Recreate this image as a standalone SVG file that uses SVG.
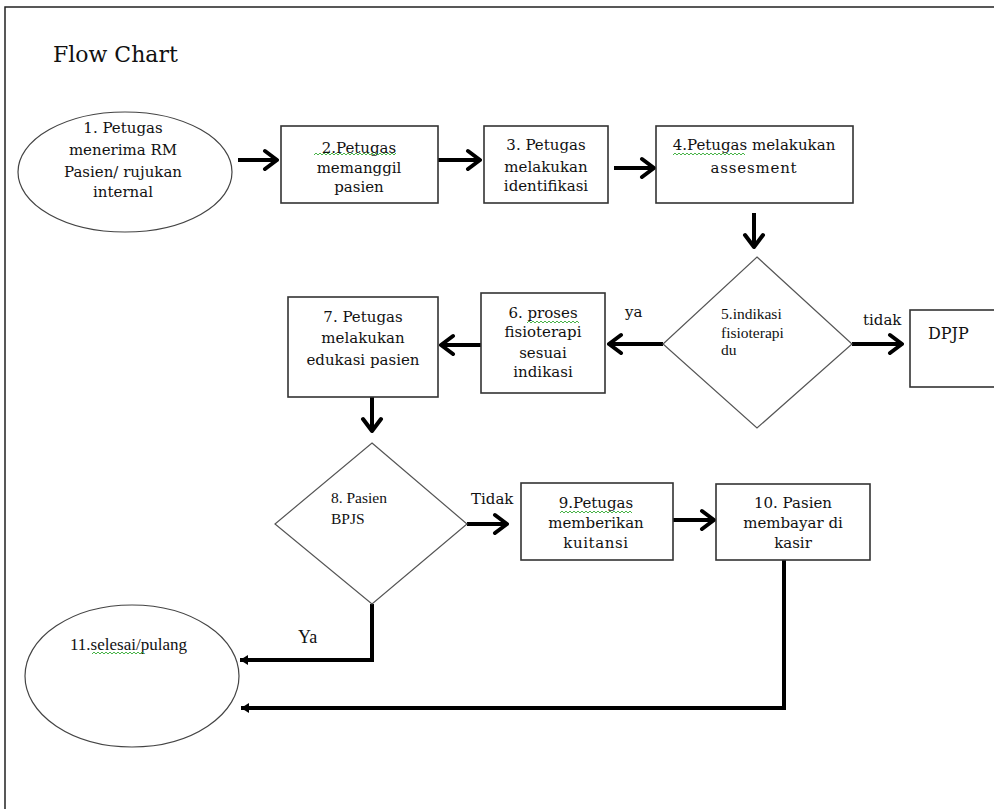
<svg xmlns="http://www.w3.org/2000/svg" width="994" height="809" viewBox="0 0 994 809">
<style>
.frame{fill:none;stroke:#222;stroke-width:1.5}
.box{fill:#fff;stroke:#333;stroke-width:1.6}
.dia{fill:#fff;stroke:#555;stroke-width:1.2}
.ell{fill:#fff;stroke:#444;stroke-width:1.2}
.t{font-family:"DejaVu Serif",serif;font-size:15px;fill:#111;text-anchor:middle}
.s{font-family:"Liberation Serif","Times New Roman",serif;font-size:15.5px;fill:#111}
.lab{font-family:"DejaVu Serif",serif;font-size:15px;fill:#111}
.c{fill:none;stroke:#000;stroke-width:4}
.sq{fill:none;stroke:#3a3;stroke-width:0.9}
</style>
<defs>
<marker id="ah" markerUnits="userSpaceOnUse" viewBox="-16 -12 18 24" refX="0" refY="0" markerWidth="18" markerHeight="24" orient="auto">
<path d="M-12,-9 L0,0 L-12,9" fill="none" stroke="#000" stroke-width="4" stroke-linecap="round" stroke-linejoin="round"/>
</marker>
<marker id="sh" markerUnits="userSpaceOnUse" viewBox="-10 -6 12 12" refX="0" refY="0" markerWidth="12" markerHeight="12" orient="auto">
<path d="M-8,-5 L0,0 L-8,5 Z" fill="#000"/>
</marker>
</defs>
<rect width="994" height="809" fill="#fff"/>
<path class="frame" d="M5,809 V7 H994"/>
<text x="53" y="62" style="font-family:'DejaVu Serif',serif;font-size:22px;fill:#111">Flow Chart</text>

<g id="connectors">
<line class="c" x1="238" y1="160" x2="277" y2="160" marker-end="url(#ah)"/>
<line class="c" x1="438" y1="160" x2="480" y2="160" marker-end="url(#ah)"/>
<line class="c" x1="614" y1="168" x2="654" y2="168" marker-end="url(#ah)"/>
<line class="c" x1="754" y1="213" x2="754" y2="247" marker-end="url(#ah)"/>
<line class="c" x1="663" y1="344" x2="609" y2="344" marker-end="url(#ah)"/>
<line class="c" x1="481" y1="345" x2="441" y2="345" marker-end="url(#ah)"/>
<line class="c" x1="372" y1="397" x2="372" y2="431" marker-end="url(#ah)"/>
<line class="c" x1="852" y1="344" x2="902" y2="344" marker-end="url(#ah)"/>
<line class="c" x1="467" y1="524" x2="507" y2="524" marker-end="url(#ah)"/>
<line class="c" x1="673" y1="520" x2="714" y2="520" marker-end="url(#ah)"/>
<polyline class="c" points="372,604 372,660 240,660" marker-end="url(#sh)"/>
<polyline class="c" points="784,560 784,708 241,708" marker-end="url(#sh)"/>
</g>
<g id="labels">
<text class="lab" x="625" y="317">ya</text>
<text class="lab" x="863" y="325">tidak</text>
<text class="lab" x="471" y="504">Tidak</text>
<text class="s" x="298" y="643" style="font-size:18px">Ya</text>
</g>

<g id="n1">
<ellipse class="ell" cx="125" cy="172" rx="107" ry="60"/>
<text class="t" x="123" y="133">1. Petugas</text>
<text class="t" x="123" y="155">menerima RM</text>
<text class="t" x="123" y="177">Pasien/ rujukan</text>
<text class="t" x="123" y="197">internal</text>
</g>
<g id="n2">
<rect class="box" x="281" y="126" width="157" height="77"/>
<text class="t" x="359" y="153">2.Petugas</text>
<text class="t" x="359" y="173">memanggil</text>
<text class="t" x="359" y="192">pasien</text>
<path class="sq" d="M314,155 l2,-2 l2,2 l2,-2 l2,2 l2,-2 l2,2 l2,-2 l2,2 l2,-2 l2,2 l2,-2 l2,2 l2,-2 l2,2 l2,-2 l2,2 l2,-2 l2,2 l2,-2 l2,2 l2,-2 l2,2 l2,-2 l2,2 l2,-2 l2,2 l2,-2 l2,2 l2,-2 l2,2 l2,-2 l2,2 l2,-2 l2,2 l2,-2 l2,2 l2,-2 l2,2 l2,-2 l2,2 l2,-2"/>
</g>
<g id="n3">
<rect class="box" x="484" y="126" width="124" height="77"/>
<text class="t" x="546" y="150">3. Petugas</text>
<text class="t" x="546" y="172">melakukan</text>
<text class="t" x="546" y="191">identifikasi</text>
</g>
<g id="n4">
<rect class="box" x="656" y="126" width="197" height="77"/>
<text class="t" x="754" y="150">4.Petugas melakukan</text>
<text class="t" x="754" y="173" letter-spacing="0.8">assesment</text>
<path class="sq" d="M673,155 l2,-2 l2,2 l2,-2 l2,2 l2,-2 l2,2 l2,-2 l2,2 l2,-2 l2,2 l2,-2 l2,2 l2,-2 l2,2 l2,-2 l2,2 l2,-2 l2,2 l2,-2 l2,2 l2,-2 l2,2 l2,-2 l2,2 l2,-2 l2,2 l2,-2 l2,2 l2,-2 l2,2 l2,-2 l2,2 l2,-2 l2,2 l2,-2 l2,2"/>
</g>
<g id="n5">
<polygon class="dia" points="757,257 852,344 757,428 663,344"/>
<text class="s" x="721" y="319">5.indikasi</text>
<text class="s" x="721" y="338">fisioterapi</text>
<text class="s" x="721" y="355">du</text>
</g>
<g id="dpjp">
<rect class="box" x="910" y="310" width="90" height="77"/>
<text class="lab" x="928" y="339" style="font-size:16px">DPJP</text>
</g>
<g id="n6">
<rect class="box" x="481" y="293" width="124" height="100"/>
<text class="t" x="543" y="318">6. proses</text>
<text class="t" x="543" y="337">fisioterapi</text>
<text class="t" x="543" y="358">sesuai</text>
<text class="t" x="543" y="377">indikasi</text>
<path class="sq" d="M527,323 l2,-2 l2,2 l2,-2 l2,2 l2,-2 l2,2 l2,-2 l2,2 l2,-2 l2,2 l2,-2 l2,2 l2,-2 l2,2 l2,-2 l2,2 l2,-2 l2,2 l2,-2 l2,2 l2,-2 l2,2 l2,-2 l2,2 l2,-2 l2,2"/>
</g>
<g id="n7">
<rect class="box" x="288" y="297" width="150" height="100"/>
<text class="t" x="363" y="322">7. Petugas</text>
<text class="t" x="363" y="343">melakukan</text>
<text class="t" x="363" y="365">edukasi pasien</text>
</g>
<g id="n8">
<polygon class="dia" points="372,443 467,524 372,604 275,524"/>
<text class="s" x="331" y="503">8. Pasien</text>
<text class="s" x="331" y="524">BPJS</text>
</g>
<g id="n9">
<rect class="box" x="521" y="483" width="152" height="77"/>
<text class="t" x="596" y="508">9.Petugas</text>
<text class="t" x="596" y="528">memberikan</text>
<text class="t" x="596" y="548" letter-spacing="0.6">kuitansi</text>
<path class="sq" d="M560,513 l2,-2 l2,2 l2,-2 l2,2 l2,-2 l2,2 l2,-2 l2,2 l2,-2 l2,2 l2,-2 l2,2 l2,-2 l2,2 l2,-2 l2,2 l2,-2 l2,2 l2,-2 l2,2 l2,-2 l2,2 l2,-2 l2,2 l2,-2 l2,2 l2,-2 l2,2 l2,-2 l2,2 l2,-2 l2,2 l2,-2 l2,2 l2,-2 l2,2"/>
</g>
<g id="n10">
<rect class="box" x="716" y="484" width="154" height="76"/>
<text class="t" x="793" y="508">10. Pasien</text>
<text class="t" x="793" y="528">membayar di</text>
<text class="t" x="793" y="548">kasir</text>
</g>
<g id="n11">
<ellipse class="ell" cx="132" cy="676" rx="107" ry="71"/>
<text class="s" x="70" y="650" style="font-size:17px">11.selesai/pulang</text>
<path class="sq" d="M92,654 l2,-2 l2,2 l2,-2 l2,2 l2,-2 l2,2 l2,-2 l2,2 l2,-2 l2,2 l2,-2 l2,2 l2,-2 l2,2 l2,-2 l2,2 l2,-2 l2,2 l2,-2 l2,2 l2,-2 l2,2 l2,-2 l2,2 l2,-2 l2,2"/>
</g>
</svg>
